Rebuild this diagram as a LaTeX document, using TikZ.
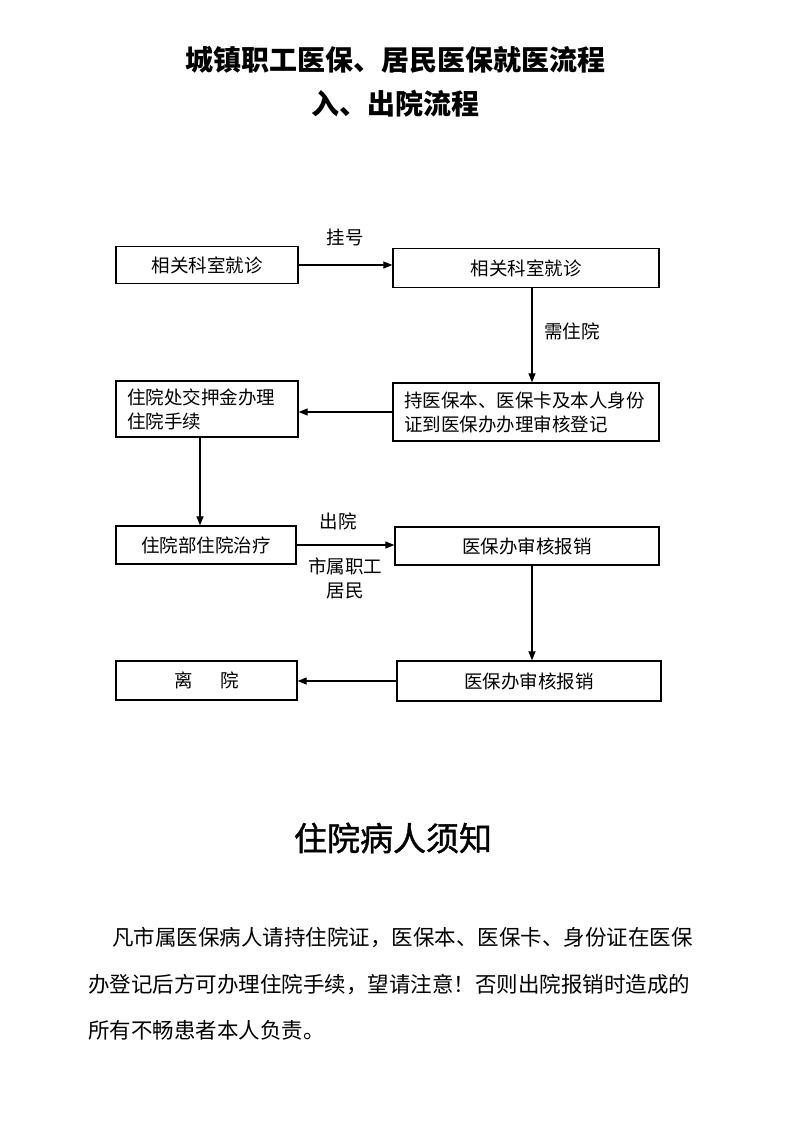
\documentclass[tikz,border=0pt]{standalone}
\usepackage{fontspec}
\newfontfamily\cjk{Noto Sans CJK SC}
\newfontfamily\cjkm[FakeBold=1.2]{Noto Sans CJK SC}
\usetikzlibrary{arrows.meta}
\begin{document}
\begin{tikzpicture}[x=1pt,y=-1pt,
  box/.style={draw,line width=1.3pt,inner sep=0pt,font=\cjk\fontsize{18.5}{24}\selectfont},
  arr/.style={line width=1.2pt,-{Triangle[length=9pt,width=7pt]}},
  lab/.style={inner sep=0pt,font=\cjk\fontsize{18.5}{24}\selectfont},
  ttl/.style={inner sep=0pt,font=\cjk\bfseries\fontsize{28}{34}\selectfont},
  para/.style={inner sep=0pt,anchor=west,font=\cjk\fontsize{21.5}{26}\selectfont}]
\fill[white] (0,0) rectangle (794,1129);
\useasboundingbox (0,0) rectangle (794,1129);

\node[ttl] (t1) at (395,60) {城镇职工医保、居民医保就医流程};
\node[ttl] (t2) at (395,104) {入、出院流程};

\node[box,minimum width=182,minimum height=37] (a) at (207,265) {相关科室就诊};
\node[box,minimum width=266,minimum height=39] (b) at (526,268) {相关科室就诊};
\node[box,minimum width=266,minimum height=58,text width=244,align=left] (c) at (526,412) {持医保本、医保卡及本人身份\\证到医保办办理审核登记};
\node[box,minimum width=182,minimum height=56,text width=160,align=left] (d) at (207,409) {住院处交押金办理\\住院手续};
\node[box,minimum width=180,minimum height=38] (e) at (206,545) {住院部住院治疗};
\node[box,minimum width=264,minimum height=38] (f) at (527,546) {医保办审核报销};
\node[box,minimum width=264,minimum height=40] (g) at (529,681) {医保办审核报销};
\node[box,minimum width=181,minimum height=39] (h) at (206.5,680.5) {离\hspace{1.5em}院};

\draw[arr] (a.east) -- (a.east -| b.west);
\draw[arr] ([xshift=6pt]b.south) -- ([xshift=6pt]b.south |- c.north);
\draw[arr] (c.west) -- (c.west -| d.east);
\draw[arr] ([xshift=-7pt]d.south) -- ([xshift=-7pt]d.south |- e.north);
\draw[arr] (e.east) -- (e.east -| f.west);
\draw[arr] ([xshift=5pt]f.south) -- ([xshift=5pt]f.south |- g.north);
\draw[arr] (g.west) -- (g.west -| h.east);

\node[lab] (l1) at (345,237) {挂号};
\node[lab] (l2) at (572,331) {需住院};
\node[lab] (l3) at (338,521) {出院};
\node[lab] (l4) at (345,566) {市属职工};
\node[lab] (l5) at (345,591) {居民};

\node[inner sep=0pt,font=\cjkm\fontsize{33}{40}\selectfont] (t3) at (393,838) {住院病人须知};

\node[para] (p1) at (112,938) {凡市属医保病人请持住院证，医保本、医保卡、身份证在医保};
\node[para] (p2) at (88,985) {办登记后方可办理住院手续，望请注意！否则出院报销时造成的};
\node[para] (p3) at (88,1030) {所有不畅患者本人负责。};
\end{tikzpicture}
\end{document}
